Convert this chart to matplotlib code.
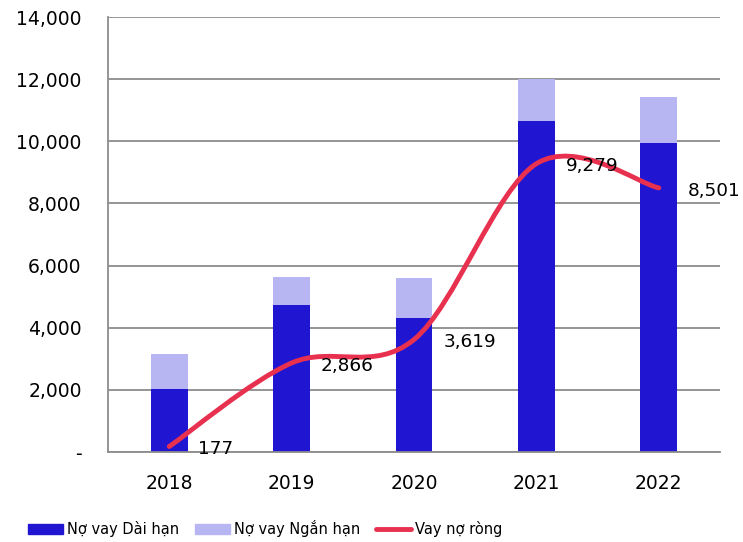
import numpy as np
import matplotlib.pyplot as plt
from matplotlib.path import Path
from matplotlib.patches import PathPatch
from matplotlib.lines import Line2D
from matplotlib.ticker import FuncFormatter

years = ['2018', '2019', '2020', '2021', '2022']
dai_han = [2040, 4740, 4320, 10650, 9940]
tong_no = [3160, 5640, 5610, 12000, 11410]
ngan_han = [t - d for t, d in zip(tong_no, dai_han)]
vay_rong = [177, 2866, 3619, 9279, 8501]

c_dark = '#2016D2'
c_light = '#B8B6F2'
c_red = '#E8304F'

plt.rcParams['font.family'] = ['DejaVu Sans']

fig = plt.figure(figsize=(7.43, 5.42), dpi=100)
ax = fig.add_subplot(111)
fig.subplots_adjust(left=0.1454, right=0.969, top=0.9686, bottom=0.166)

x = np.arange(len(years))
ax.bar(x, dai_han, width=0.30, color=c_dark, zorder=2)
ax.bar(x, ngan_han, bottom=dai_han, width=0.30, color=c_light, zorder=2)

# smoothed line, excel style bezier
px = list(x.astype(float))
py = list(vay_rong)
verts = [(px[0], py[0])]
codes = [Path.MOVETO]
n = len(px)
for i in range(n - 1):
    i0 = max(i - 1, 0)
    i3 = min(i + 2, n - 1)
    c1 = (px[i] + (px[i + 1] - px[i0]) / 6, py[i] + (py[i + 1] - py[i0]) / 6)
    c2 = (px[i + 1] - (px[i3] - px[i]) / 6, py[i + 1] - (py[i3] - py[i]) / 6)
    verts += [c1, c2, (px[i + 1], py[i + 1])]
    codes += [Path.CURVE4, Path.CURVE4, Path.CURVE4]
curve = PathPatch(Path(verts, codes), facecolor='none', edgecolor=c_red,
                  linewidth=3.5, capstyle='round', zorder=3)
ax.add_patch(curve)

for xi, v in zip(x, vay_rong):
    ax.annotate(f'{v:,}', (xi, v), xytext=(21, -2), textcoords='offset points',
                ha='left', va='center', fontsize=13.3, color='black', zorder=4,
                annotation_clip=False)

ax.set_xlim(-0.5, 4.5)
ax.set_ylim(0, 14000)
ax.set_yticks(np.arange(0, 14001, 2000))
ax.yaxis.set_major_formatter(FuncFormatter(lambda v, p: '-' if v == 0 else f'{int(v):,}'))
ax.set_xticks(x)
ax.set_xticklabels(years)
ax.tick_params(axis='both', length=0, labelsize=13.5)
ax.tick_params(axis='y', pad=19)
ax.tick_params(axis='x', pad=16)

ax.grid(axis='y', color='#8c8c8c', linewidth=1.3, zorder=1)
ax.set_axisbelow(True)
for s in ['top', 'right']:
    ax.spines[s].set_visible(False)
for s in ['left', 'bottom']:
    ax.spines[s].set_color('#8c8c8c')
    ax.spines[s].set_linewidth(1.3)

handles = [plt.Rectangle((0, 0), 1, 1, color=c_dark),
           plt.Rectangle((0, 0), 1, 1, color=c_light),
           Line2D([0], [0], color=c_red, linewidth=3.5, solid_capstyle='round')]
labels = ['Nợ vay Dài hạn', 'Nợ vay Ngắn hạn', 'Vay nợ ròng']
fig.legend(handles, labels, loc='center', bbox_to_anchor=(0.357, 0.024), ncol=3,
           frameon=False, fontsize=10.5, handlelength=2.4, handletextpad=0.25,
           columnspacing=1.1, borderaxespad=0)

plt.savefig('out.png', dpi=100)
